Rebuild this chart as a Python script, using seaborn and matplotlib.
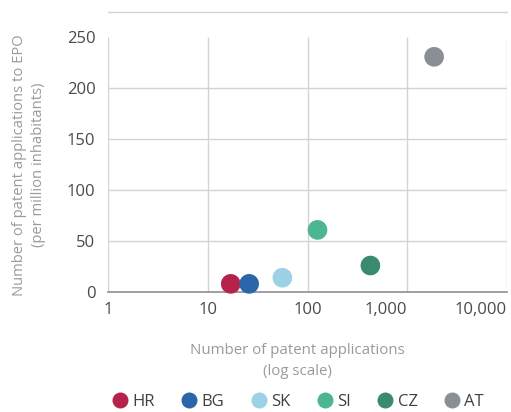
import matplotlib
matplotlib.use("Agg")
import matplotlib.pyplot as plt
import seaborn as sns
import pandas as pd
from matplotlib.lines import Line2D

countries = ["HR", "BG", "SK", "SI", "CZ", "AT"]
applications = [17, 26, 56, 126, 427, 1860]
per_million = [8, 8, 14, 61, 26, 231]
colors = ["#B5234A", "#2A66A8", "#9DD1E6", "#4BB594", "#3A8A6E", "#8A8F96"]
x_ticks = [1, 10, 100, 1000, 10000]
x_tick_labels = ["1", "10", "100", "1,000", "10,000"]
y_ticks = [0, 50, 100, 150, 200, 250]

df = pd.DataFrame({"country": countries, "apps": applications, "pm": per_million})

sns.set_theme(style="white")
plt.rcParams["font.family"] = ["Open Sans", "DejaVu Sans"]

W, H = 511, 412
fig = plt.figure(figsize=(W / 100, H / 100), dpi=100)
ax = fig.add_axes([108 / W, 120 / H, 399 / W, 280 / H])

grid_c = "#D3D3D3"
ax.set_xscale("log")
ax.set_xlim(1, 10000)
ax.set_ylim(0, 275)

# grid: vertical lines up to 250, horizontal lines at the inner ticks
ax.vlines(x_ticks, 0, 250, colors=grid_c, linewidth=1, zorder=0)
ax.hlines(y_ticks[1:-1], 1, 10000, colors=grid_c, linewidth=1, zorder=0)

sns.scatterplot(data=df, x="apps", y="pm", hue="country", palette=colors,
                hue_order=countries, s=200, edgecolor="none", legend=False,
                ax=ax, zorder=3, clip_on=False)
ax.set_xlabel("")
ax.set_ylabel("")

for side in ["left", "right"]:
    ax.spines[side].set_visible(False)
ax.spines["top"].set_color(grid_c)
ax.spines["top"].set_linewidth(1)
ax.spines["bottom"].set_color("#8C8F93")
ax.spines["bottom"].set_linewidth(1.2)

ax.set_xticks(x_ticks)
ax.set_xticklabels(x_tick_labels)
ax.xaxis.set_minor_locator(matplotlib.ticker.NullLocator())
for lab, ha in zip(ax.get_xticklabels(), ["center", "center", "center", "right", "right"]):
    lab.set_ha(ha)
ax.set_yticks(y_ticks)
ax.tick_params(axis="both", length=0, labelsize=12, labelcolor="#4A4A4A")
ax.tick_params(axis="x", pad=7)
ax.tick_params(axis="y", pad=9)

lab_c = "#9A9A9A"
fig.text(297 / W, 1 - 361 / H, "Number of patent applications\n(log scale)",
         ha="center", va="center", color=lab_c, fontsize=10.8, linespacing=1.5)
fig.text(29 / W, 1 - 165 / H,
         "Number of patent applications to EPO\n(per million inhabitants)",
         ha="center", va="center", rotation=90, color=lab_c, fontsize=10.6,
         linespacing=1.45)

handles = [Line2D([], [], marker="o", linestyle="none", markersize=11.5,
                  markerfacecolor=c, markeredgecolor="none") for c in colors]
fig.legend(handles, countries, loc="center", bbox_to_anchor=(0.583, 1 - 402 / H),
           ncol=6, frameon=False, fontsize=12, handletextpad=0.25,
           columnspacing=1.55, labelcolor="#404040", handlelength=1.0)

fig.savefig("out.png", dpi=100)
